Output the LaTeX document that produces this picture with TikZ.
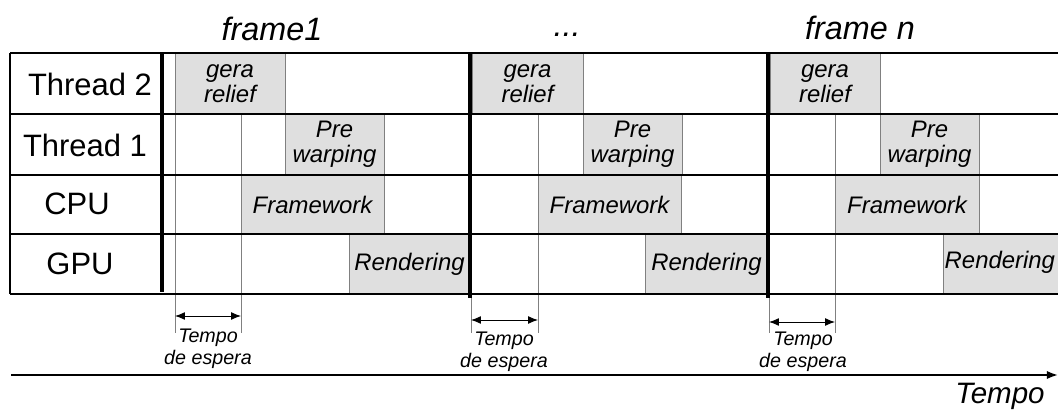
\documentclass[tikz,border=0pt]{standalone}
\usepackage{fontspec}
\setmainfont{Liberation Sans}
\usepackage{tikz}
\usetikzlibrary{positioning,arrows.meta}

\begin{document}
\begin{tikzpicture}[
	x=0.025cm, y=-0.025cm,
	rowlabel/.style={font=\fontsize{22}{24}\selectfont},
	taskbox/.style={draw=gray, fill=gray!25, line width=0.6pt},
	tasktext/.style={inner sep=0pt, align=center, font=\fontsize{17}{18}\selectfont\itshape},
	header/.style={font=\fontsize{23}{26}\selectfont\itshape},
	waitnote/.style={align=center, font=\fontsize{14}{15.6}\selectfont\itshape},
	gridline/.style={line width=1.5pt},
	framesep/.style={line width=2.2pt},
	thinline/.style={draw=gray, line width=0.6pt},
	waitarrow/.style={{Latex[length=7pt,width=5.5pt]}-{Latex[length=7pt,width=5.5pt]}, line width=0.6pt},
	timeaxis/.style={-{Latex[length=8pt,width=6pt]}, line width=1.4pt}
	]
	\useasboundingbox (0,0) rectangle (1058,412);
	
	% Titulos
	\node[header] (f1) at (272,29) {frame1};
	\node[header] (fdots) at (567,35) {...};
	\node[header] (fn) at (860,28) {frame n};
	
	% Rotulos das linhas
	\node[rowlabel] (t2) at (90,84) {Thread 2};
	\node[rowlabel] (t1) at (85,145) {Thread 1};
	\node[rowlabel] (cpu) at (77,204) {CPU};
	\node[rowlabel] (gpu) at (80,264) {GPU};
	
	% frame 1
	\draw[taskbox] (175,53) rectangle (285,114) node[tasktext, midway] (gera1) {gera\\relief};
	\draw[taskbox] (285,114) rectangle (384,175) node[tasktext, midway] (pre1) {Pre\\warping};
	\draw[taskbox] (241,175) rectangle (384,234) node[tasktext, midway] (fw1) {Framework};
	\draw[taskbox] (349,234) rectangle (470,294) node[tasktext, midway] (rd1) {Rendering};
	
	% frame 2
	\draw[taskbox] (472,53) rectangle (583,114) node[tasktext, midway] (gera2) {gera\\relief};
	\draw[taskbox] (583,114) rectangle (682,175) node[tasktext, midway] (pre2) {Pre\\warping};
	\draw[taskbox] (538,175) rectangle (681,234) node[tasktext, midway] (fw2) {Framework};
	\draw[taskbox] (645,234) rectangle (768,294) node[tasktext, midway] (rd2) {Rendering};
	
	% frame n
	\draw[taskbox] (770,53) rectangle (880,114) node[tasktext, midway] (gera3) {gera\\relief};
	\draw[taskbox] (880,114) rectangle (979,175) node[tasktext, midway] (pre3) {Pre\\warping};
	\draw[taskbox] (835,175) rectangle (979,234) node[tasktext, midway] (fw3) {Framework};
	\draw[taskbox] (943,234) rectangle (1064,294) node[tasktext, pos=0.47] (rd3) {Rendering};
	
	% linhas finas de espera
	\draw[thinline] (175,53) -- (175,333);
	\draw[thinline] (241,114) -- (241,333);
	\draw[thinline] (471,294) -- (471,333);
	\draw[thinline] (538,114) -- (538,333);
	\draw[thinline] (769,294) -- (769,333);
	\draw[thinline] (835,114) -- (835,333);
	
	% grade
	\draw[gridline] (10,53) -- (1060,53);
	\draw[gridline] (10,114) -- (1060,114);
	\draw[gridline] (10,175) -- (1060,175);
	\draw[gridline] (10,234) -- (1060,234);
	\draw[gridline] (10,294) -- (1060,294);
	\draw[gridline] (10,53) -- (10,294);
	\draw[framesep] (162,53) -- (162,292);
	\draw[framesep] (470,53) -- (470,298);
	\draw[framesep] (768,53) -- (768,298);
	
	% tempos de espera
	\coordinate (w1a) at (175,316);
	\coordinate (w1b) at (241,316);
	\coordinate (w2a) at (471,320);
	\coordinate (w2b) at (538,320);
	\coordinate (w3a) at (769,322);
	\coordinate (w3b) at (835,322);
	\draw[waitarrow] (w1a) -- (w1b);
	\draw[waitarrow] (w2a) -- (w2b);
	\draw[waitarrow] (w3a) -- (w3b);
	\node[waitnote] (e1) at (208,349) {Tempo\\de espera};
	\node[waitnote] (e2) at (504,352) {Tempo\\de espera};
	\node[waitnote] (e3) at (803,352) {Tempo\\de espera};
	
	% eixo do tempo
	\coordinate (ax0) at (11,375);
	\coordinate (ax1) at (1058,375);
	\draw[timeaxis] (ax0) -- (ax1);
	\node[header, font=\fontsize{21}{24}\selectfont\itshape] (tempo) at (1000,396) {Tempo};
	
\end{tikzpicture}
\end{document}
